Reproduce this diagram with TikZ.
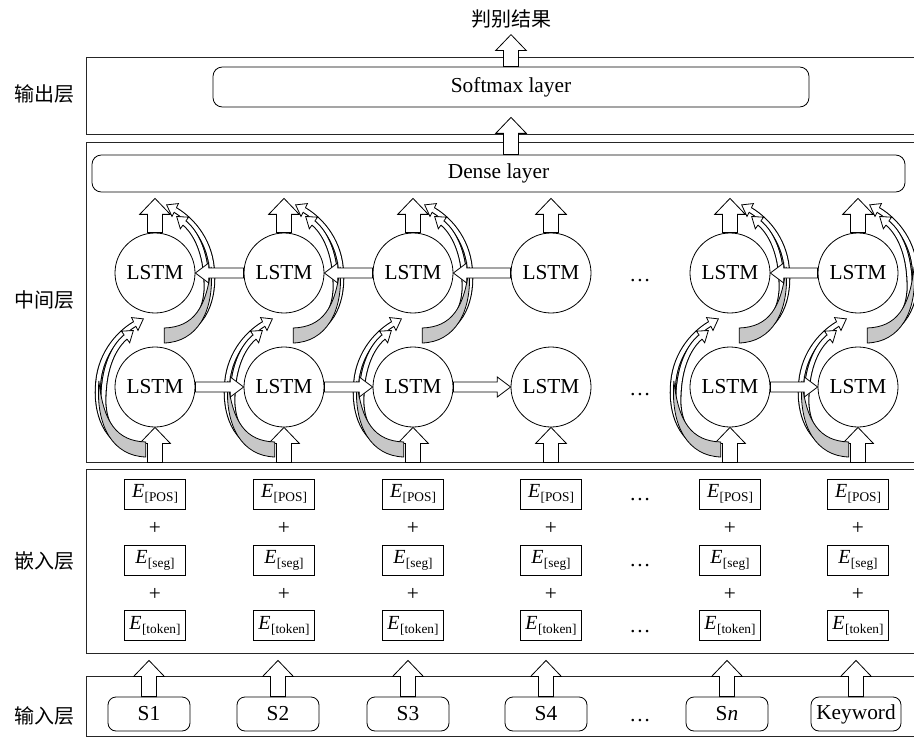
\documentclass[tikz,border=0pt]{standalone}
\usepackage{fontspec}
\setmainfont{Liberation Serif}
\newfontfamily\cjk{Noto Sans CJK SC}
\usetikzlibrary{calc}
\newcommand\vblk[2]{\draw[blk] let \p1=#1, \p2=#2 in (\x2-5.6pt,\y1) -- (\x2-5.6pt,\y2-12pt) -- (\x2-11.5pt,\y2-12pt) -- (\x2,\y2) -- (\x2+11.5pt,\y2-12pt) -- (\x2+5.6pt,\y2-12pt) -- (\x2+5.6pt,\y1) -- cycle;}
\newcommand\rblk[2]{\draw[blk] let \p1=#1, \p2=#2 in (\x1,\y2+3.75pt) -- (\x2-10pt,\y2+3.75pt) -- (\x2-10pt,\y2+7.5pt) -- (\x2,\y2) -- (\x2-10pt,\y2-7.5pt) -- (\x2-10pt,\y2-3.75pt) -- (\x1,\y2-3.75pt) -- cycle;}
\newcommand\lblk[2]{\draw[blk] let \p1=#1, \p2=#2 in (\x1,\y2+3.75pt) -- (\x2+10pt,\y2+3.75pt) -- (\x2+10pt,\y2+7.5pt) -- (\x2,\y2) -- (\x2+10pt,\y2-7.5pt) -- (\x2+10pt,\y2-3.75pt) -- (\x1,\y2-3.75pt) -- cycle;}
\newcommand\ribbon[3]{%
  \draw[line width=4.6pt] #1;
  \draw[line width=3pt,white] #1;
  \coordinate (re) at #3; \coordinate (rc) at #2;
  \filldraw[fill=white,line join=miter] ($(re)!1.9pt!90:(rc)$) -- ($(re)!5.5pt!90:(rc)$) -- ($(re)!-8pt!(rc)$) -- ($(re)!5.5pt!-90:(rc)$) -- ($(re)!1.9pt!-90:(rc)$);}
\newcommand\curvedpair{%
  \ribbon{(-12,62) .. controls (-50,62) and (-64,30) .. (-62,0) .. controls (-61,-30) and (-42,-52) .. (-22,-63)}{(-42,-52)}{(-22,-63)}
  \ribbon{(-12,60) .. controls (-45,59) and (-58,35) .. (-56,8) .. controls (-55,-20) and (-45,-40) .. (-32,-50)}{(-45,-40)}{(-32,-50)}
  \draw[fill=black!22] (-10,70) .. controls (-45,69) and (-65,40) .. (-61,-6) .. controls (-56,35) and (-42,54) .. (-10,55) -- cycle;}
\newcommand\ee[1]{\textit{E}\kern0.3pt\raisebox{-3pt}{\fontsize{10}{10}\selectfont[#1]}}
\begin{document}
\begin{tikzpicture}[x=0.75pt,y=-0.75pt,line width=0.6pt,
 layer/.style={draw=black!85,line width=0.65pt,inner sep=0pt},
 rbox/.style={draw,rounded corners=7pt,inner sep=0pt,font=\fontsize{16}{16}\selectfont},
 lstm/.style={draw,circle,minimum size=60pt,inner sep=0pt,font=\fontsize{16}{16}\selectfont},
 ebox/.style={draw,minimum width=45.75pt,minimum height=22.5pt,inner sep=0pt,font=\fontsize{15}{15}\selectfont},
 plus/.style={font=\fontsize{16}{16}\selectfont,inner sep=0pt},
 sbox/.style={draw,rounded corners=6pt,minimum height=25.5pt,inner sep=0pt,font=\fontsize{16}{16}\selectfont},
 lbl/.style={font=\cjk\fontsize{15}{15}\selectfont,inner sep=0pt},
 dots/.style={font=\fontsize{16}{16}\selectfont,anchor=base,inner sep=0pt},
 blk/.style={draw,fill=white,line join=miter,line width=0.6pt}]
\useasboundingbox (0,0) rectangle (914,738);
% layer boxes (right edges run off the page, as in the reference)
\node[layer,minimum width=624pt,minimum height=57.75pt] (outbox) at (502,95.5) {};
\node[layer,minimum width=624pt,minimum height=240pt] (midbox) at (502,302) {};
\node[layer,minimum width=624pt,minimum height=138pt] (embbox) at (502,561) {};
\node[layer,minimum width=624pt,minimum height=45.4pt] (inbox) at (502,706.25) {};
% layer labels
\node[lbl] (l1) at (44,94) {输出层};
\node[lbl] (l2) at (44,300) {中间层};
\node[lbl] (l3) at (44,561) {嵌入层};
\node[lbl] (l4) at (44,716) {输入层};
% top
\node[rbox,minimum width=447pt,minimum height=30pt] (softmax) at (511,87) {Softmax layer};
\node[rbox,minimum width=609.75pt,minimum height=27.75pt] (dense) at (498.5,173.5) {Dense layer};
\node[lbl] (result) at (511,19) {判别结果};
\vblk{(softmax.north)}{($(softmax.north)+(0,-32)$)}
\vblk{(softmax.south |- dense.north)}{($(softmax.south)+(0,10)$)}
% columns
\foreach \i/\c/\s/\w/\mw in {1/155/149/S1/61.5pt, 2/284/278/S2/61.5pt, 3/413/408/S3/61.5pt, 4/551/546/S4/61.5pt, 5/730/727/S\textit{n}/61.5pt, 6/858/856/Keyword/67.5pt}{
 \node[lstm] (lt\i) at (\c,273) {LSTM};
 \node[lstm] (lb\i) at (\c,387) {LSTM};
 \node[ebox] (ep\i) at (\c,494) {\ee{POS}};
 \node[plus] (pa\i) at (\c,528) {+};
 \node[ebox] (es\i) at (\c,560.5) {\ee{seg}};
 \node[plus] (pb\i) at (\c,594) {+};
 \node[ebox] (et\i) at (\c,625.5) {\ee{token}};
 \node[sbox,minimum width=\mw] (s\i) at (\s,714) {\w};
 \vblk{(s\i.north)}{($(s\i.north |- embbox.south)+(0,7)$)}
 \vblk{(lb\i.south |- midbox.south)}{(lb\i.south)}
 \vblk{(lt\i.north)}{($(lt\i.north |- dense.south)+(0,6)$)}
}
% curved ribbon arrows
\foreach \c in {155,284,413,730,858}{
 \begin{scope}[shift={(\c,387)},xscale=0.92]\curvedpair\end{scope}
 \begin{scope}[shift={(\c,273)},xscale=-0.92]\curvedpair\end{scope}
}
% horizontal arrows
\foreach \a/\b in {1/2,2/3,3/4,5/6}{
 \lblk{(lt\b.west)}{(lt\a.east)}
 \rblk{(lb\a.east)}{(lb\b.west)}
}
% dots
\foreach \k/\y in {1/281,2/395,3/500,4/566,5/632,6/721}
 \node[dots] (d\k) at (640,\y) {…};
\end{tikzpicture}
\end{document}
